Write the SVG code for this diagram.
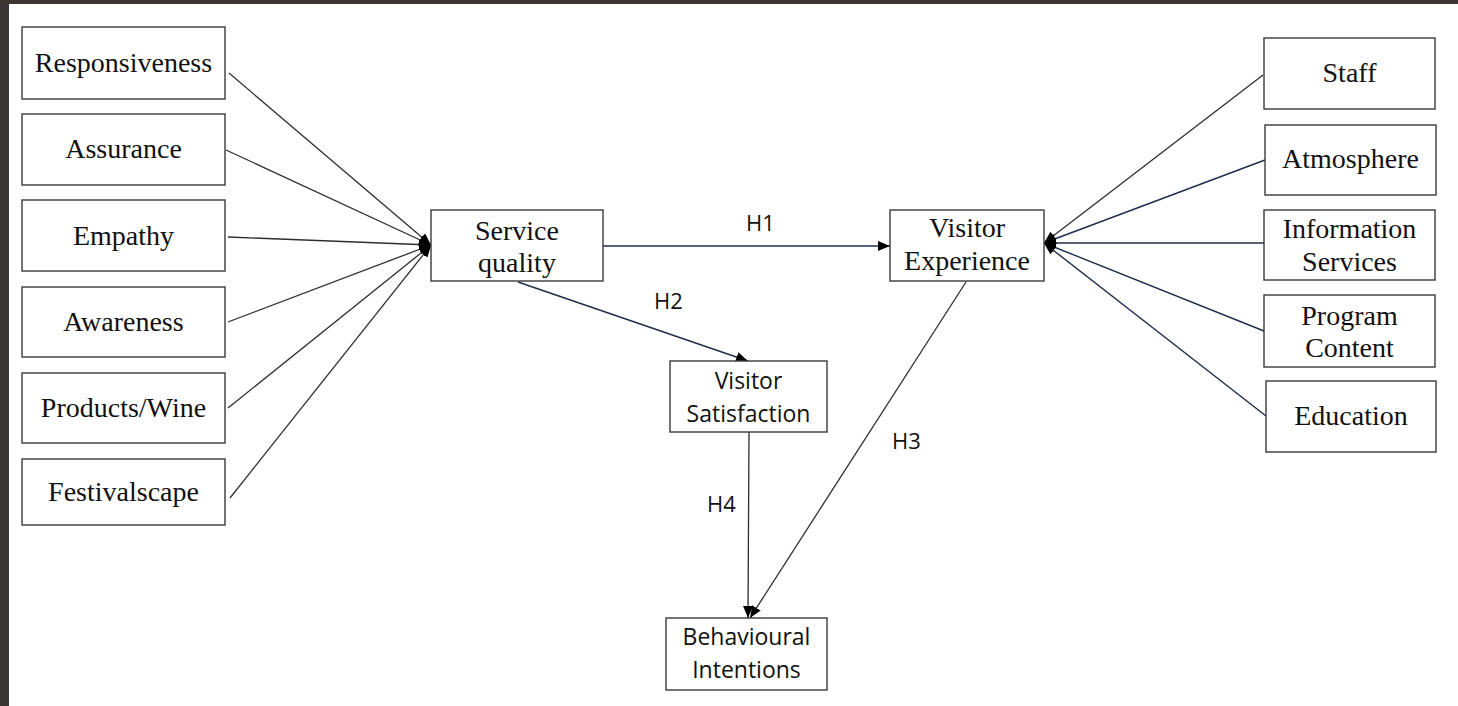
<svg xmlns="http://www.w3.org/2000/svg" width="1458" height="706" viewBox="0 0 1458 706">
<style>
.bx{fill:#fff;stroke:#3a3a3a;stroke-width:1.4}
.sf{font-family:"Liberation Serif","Times New Roman",serif;font-size:28px;fill:#111;text-anchor:middle}
.ss{font-family:"Open Sans","Liberation Sans",sans-serif;font-size:23px;fill:#111;text-anchor:middle}
.hl{font-family:"Open Sans","Liberation Sans",sans-serif;font-size:22px;fill:#111}
.lg{stroke:#2e2e2e;stroke-width:1.3;fill:none}
.ln{stroke:#1f2d4a;stroke-width:1.4;fill:none}
</style>
<defs>
<marker id="ah" viewBox="0 0 12 10" refX="12" refY="5" markerWidth="12" markerHeight="10" markerUnits="userSpaceOnUse" orient="auto">
<path d="M0,0 L12,5 L0,10 Z" fill="#000"/>
</marker>
</defs>
<rect x="0" y="0" width="1458" height="706" fill="#3b3632"/>
<rect x="9" y="4" width="1449" height="702" fill="#fff"/>

<g id="connectors">
<line class="lg" x1="229" y1="73" x2="431" y2="245" marker-end="url(#ah)"/>
<line class="lg" x1="226" y1="150" x2="431" y2="245" marker-end="url(#ah)"/>
<line class="lg" x1="228" y1="237" x2="431" y2="245" marker-end="url(#ah)"/>
<line class="lg" x1="228" y1="322" x2="431" y2="245" marker-end="url(#ah)"/>
<line class="lg" x1="228" y1="408" x2="431" y2="245" marker-end="url(#ah)"/>
<line class="lg" x1="230" y1="498" x2="431" y2="245" marker-end="url(#ah)"/>
<line class="lg" x1="1263" y1="75" x2="1044" y2="243" marker-end="url(#ah)"/>
<line class="ln" x1="1265" y1="160" x2="1044" y2="243" marker-end="url(#ah)"/>
<line class="ln" x1="1264" y1="243" x2="1044" y2="243" marker-end="url(#ah)"/>
<line class="ln" x1="1264" y1="331" x2="1044" y2="243" marker-end="url(#ah)"/>
<line class="ln" x1="1266" y1="416" x2="1044" y2="243" marker-end="url(#ah)"/>
<line class="ln" x1="603" y1="246" x2="890" y2="246" marker-end="url(#ah)"/>
<line class="ln" x1="518" y1="282" x2="748" y2="361" marker-end="url(#ah)"/>
<line class="lg" x1="749" y1="432" x2="748" y2="618" marker-end="url(#ah)"/>
<line class="lg" x1="966" y1="282" x2="750" y2="618" marker-end="url(#ah)"/>
<text class="hl" x="746" y="231">H1</text>
<text class="hl" x="654" y="309">H2</text>
<text class="hl" x="892" y="449">H3</text>
<text class="hl" x="707" y="512">H4</text>
</g>

<g id="n-responsiveness"><rect class="bx" x="22" y="27" width="203" height="72"/><text class="sf" x="123.5" y="72">Responsiveness</text></g>
<g id="n-assurance"><rect class="bx" x="22" y="114" width="203" height="71"/><text class="sf" x="123.5" y="158">Assurance</text></g>
<g id="n-empathy"><rect class="bx" x="22" y="200" width="203" height="71"/><text class="sf" x="123.5" y="245">Empathy</text></g>
<g id="n-awareness"><rect class="bx" x="22" y="287" width="203" height="70"/><text class="sf" x="123.5" y="331">Awareness</text></g>
<g id="n-products"><rect class="bx" x="22" y="373" width="203" height="70"/><text class="sf" x="123.5" y="417">Products/Wine</text></g>
<g id="n-festivalscape"><rect class="bx" x="22" y="459" width="203" height="66"/><text class="sf" x="123.5" y="501">Festivalscape</text></g>

<g id="n-service"><rect class="bx" x="431" y="210" width="172" height="71"/><text class="sf" x="517" y="240">Service</text><text class="sf" x="517" y="272">quality</text></g>
<g id="n-experience"><rect class="bx" x="890" y="210" width="154" height="71"/><text class="sf" x="967" y="237">Visitor</text><text class="sf" x="967" y="270">Experience</text></g>
<g id="n-satisfaction"><rect class="bx" x="670" y="361" width="157" height="71"/><text class="ss" x="748.5" y="389">Visitor</text><text class="ss" x="748.5" y="422">Satisfaction</text></g>
<g id="n-behavioural"><rect class="bx" x="666" y="618" width="161" height="72"/><text class="ss" x="746.5" y="645">Behavioural</text><text class="ss" x="746.5" y="678">Intentions</text></g>

<g id="n-staff"><rect class="bx" x="1264" y="38" width="171" height="71"/><text class="sf" x="1349.5" y="82">Staff</text></g>
<g id="n-atmosphere"><rect class="bx" x="1265" y="125" width="171" height="70"/><text class="sf" x="1350.5" y="168">Atmosphere</text></g>
<g id="n-info"><rect class="bx" x="1264" y="210" width="171" height="70"/><text class="sf" x="1349.5" y="238">Information</text><text class="sf" x="1349.5" y="271">Services</text></g>
<g id="n-program"><rect class="bx" x="1264" y="295" width="171" height="72"/><text class="sf" x="1349.5" y="325">Program</text><text class="sf" x="1349.5" y="357">Content</text></g>
<g id="n-education"><rect class="bx" x="1266" y="381" width="170" height="71"/><text class="sf" x="1351" y="425">Education</text></g>
</svg>
